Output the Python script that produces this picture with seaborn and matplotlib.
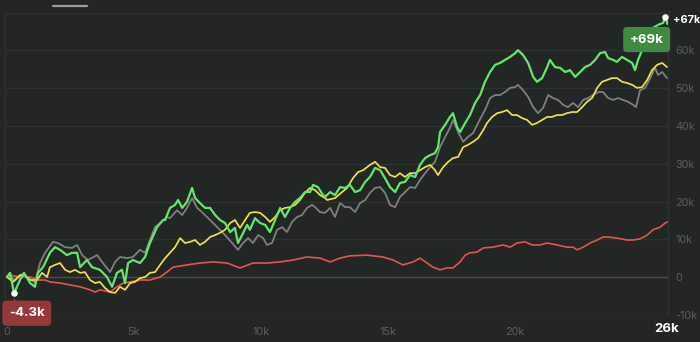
import matplotlib
matplotlib.use("Agg")
import matplotlib.pyplot as plt
from matplotlib.lines import Line2D
import pandas as pd
import seaborn as sns

# Cumulative P&L (thousands) against trade count (thousands)
green_x = [0, 0.12, 0.28, 0.51, 0.67, 0.91, 1.10, 1.22, 1.42, 1.69, 1.89, 2.09, 2.36, 2.56, 2.76, 2.88,
           3.15, 3.35, 3.66, 3.94, 4.14, 4.33, 4.53, 4.65, 4.77, 4.96, 5.24, 5.44, 5.63, 5.91, 6.15,
           6.23, 6.42, 6.62, 6.74, 6.90, 7.09, 7.29, 7.41, 7.60, 7.80, 8.00, 8.20, 8.39, 8.59, 8.79,
           8.98, 9.10, 9.26, 9.46, 9.57, 9.77, 9.97, 10.17, 10.36, 10.56, 10.76, 10.95, 11.15, 11.35,
           11.54, 11.74, 11.94, 12.06, 12.25, 12.45, 12.53, 12.73, 12.92, 13.12, 13.32, 13.51, 13.71,
           13.91, 14.11, 14.30, 14.50, 14.70, 14.89, 15.09, 15.29, 15.48, 15.68, 15.88, 16.08, 16.27,
           16.47, 16.67, 16.86, 16.98, 17.06, 17.26, 17.45, 17.57, 17.73, 17.85, 18.05, 18.24, 18.44,
           18.64, 18.83, 19.03, 19.23, 19.42, 19.62, 19.82, 20.02, 20.13, 20.33, 20.53, 20.73, 20.88,
           21.08, 21.28, 21.39, 21.59, 21.79, 21.99, 22.18, 22.38, 22.58, 22.77, 22.97, 23.17, 23.36,
           23.56, 23.68, 23.88, 24.03, 24.23, 24.43, 24.63, 24.74, 24.86, 25.02, 25.22, 25.45, 25.65,
           25.85, 25.93, 26.02]
green_y = [0, 1.1, -4.3, -0.8, 1.1, -1.6, -2.6, 1.1, 2.6, 6.4, 7.9, 7.2, 5.8, 6.4, 6.4, 2.6,
           4.5, 2.6, 1.9, 0, -2.6, 1.1, 1.9, -1.6, 3.7, 4.5, 3.7, 5.3, 9.0, 13.2, 15.1,
           15.1, 18.3, 19.1, 20.4, 18.3, 19.9, 23.6, 20.9, 19.6, 18.3, 18.3, 16.4, 15.1, 14.3, 11.9,
           13.0, 9.0, 11.1, 13.8, 12.5, 15.6, 14.3, 13.8, 11.9, 15.1, 18.3, 15.9, 18.3, 19.9,
           20.9, 22.5, 22.5, 24.4, 23.8, 21.7, 21.2, 22.5, 21.7, 23.8, 23.6, 24.4, 22.5,
           23.0, 25.2, 26.5, 28.9, 28.3, 26.2, 23.8, 22.5, 24.9, 25.2, 27.0, 26.5, 29.7,
           31.5, 32.3, 32.8, 34.4, 38.4, 40.3, 42.4, 43.4, 39.7, 38.4, 40.8, 42.9, 46.1,
           48.2, 51.7, 54.3, 56.2, 56.7, 57.5, 58.3, 59.3, 60.1, 58.8, 56.7, 53.0, 51.7,
           52.7, 55.6, 57.5, 55.6, 55.4, 54.3, 54.8, 53.0, 54.3, 55.6, 56.2, 57.5, 59.3,
           59.6, 58.0, 57.5, 57.0, 58.3, 57.5, 56.7, 54.8, 57.5, 60.1, 63.6, 66.0, 66.8,
           67.3, 69.0, 67.0]

gray_x = [0, 0.12, 0.30, 0.60, 0.90, 1.10, 1.30, 1.50, 1.81, 2.01, 2.29, 2.56, 2.76, 2.96, 3.19, 3.55,
          3.78, 4.06, 4.26, 4.45, 4.73, 4.96, 5.24, 5.44, 5.63, 5.83, 6.03, 6.30,
          6.42, 6.70, 6.90, 7.09, 7.29, 7.49, 7.68, 7.88, 8.12, 8.31, 8.59, 8.87, 9.10, 9.30, 9.50,
          9.69, 9.89, 10.09, 10.24, 10.44, 10.64, 10.84, 11.03, 11.23, 11.43, 11.62, 11.82, 12.02,
          12.14, 12.33, 12.53, 12.73, 12.92, 13.12, 13.32, 13.51, 13.71, 13.91, 14.11, 14.30, 14.50,
          14.70, 14.89, 15.09, 15.29, 15.48, 15.68, 15.88, 16.08, 16.27, 16.47, 16.67, 16.86, 17.06,
          17.26, 17.45, 17.57, 17.77, 17.97, 18.16, 18.36, 18.56, 18.76, 18.83, 19.03, 19.23, 19.42,
          19.62, 19.82, 20.02, 20.13, 20.33, 20.53, 20.73, 20.92, 21.12, 21.32, 21.51, 21.71, 21.91,
          22.10, 22.30, 22.50, 22.70, 22.89, 23.09, 23.29, 23.48, 23.68, 23.88, 24.07, 24.27, 24.47,
          24.67, 24.78, 24.94, 25.14, 25.34, 25.53, 25.65, 25.81, 26.00]
gray_y = [0, 0.5, -1.0, 0.8, -0.5, -1.5, 3.7, 6.4, 9.3, 9.0, 7.9, 7.7, 8.5, 5.8, 4.5, 5.8,
          3.7, 1.3, 4.0, 5.3, 5.0, 5.3, 7.2, 6.4, 9.8, 13.2, 14.3, 15.9,
          15.6, 17.7, 16.4, 18.3, 20.9, 18.3, 17.2, 15.9, 14.3, 13.0, 11.1, 9.0, 7.2, 9.0, 10.3,
          9.0, 11.1, 10.3, 8.5, 9.0, 12.5, 13.2, 11.9, 14.6, 15.9, 16.4, 18.3, 19.1,
          18.5, 17.2, 17.0, 18.3, 15.9, 19.6, 18.5, 18.5, 17.2, 19.6, 20.4, 22.3, 23.6,
          23.8, 22.3, 19.1, 18.5, 21.2, 22.5, 23.8, 23.6, 25.7, 27.5, 29.1, 30.5, 34.4,
          37.1, 39.5, 41.6, 38.4, 35.8, 37.1, 38.1, 40.8, 43.4, 44.2, 47.4, 48.2, 48.2,
          49.0, 50.1, 50.3, 50.9, 49.5, 47.7, 45.0, 43.4, 44.8, 48.2, 47.4, 46.9, 45.6,
          45.0, 46.1, 45.0, 46.9, 47.4, 48.2, 49.0, 49.0, 47.4, 46.9, 47.4, 46.9, 46.4,
          45.6, 45.0, 49.5, 50.1, 52.7, 55.4, 53.5, 54.3, 52.7]

yellow_x = [0, 0.24, 0.51, 0.71, 0.91, 1.18, 1.38, 1.58, 1.69, 1.89, 2.09, 2.29, 2.48, 2.68, 2.88,
            3.07, 3.27, 3.47, 3.66, 3.86, 4.06, 4.26, 4.45, 4.65, 4.85, 5.04, 5.24, 5.44, 5.63,
            5.83, 6.03, 6.23, 6.42, 6.62, 6.82, 7.01, 7.21, 7.41, 7.60, 7.80, 8.00, 8.20, 8.39,
            8.59, 8.79, 8.98, 9.18, 9.38, 9.57, 9.77, 9.97, 10.17, 10.36, 10.56, 10.76, 10.95,
            11.15, 11.35, 11.54, 11.74, 11.94, 12.14, 12.33, 12.53, 12.61, 12.92, 13.20, 13.40,
            13.63, 13.83, 14.03, 14.30, 14.50, 14.70, 14.89, 15.09, 15.29, 15.48, 15.68, 15.88,
            16.08, 16.27, 16.47, 16.67, 16.86, 16.98, 17.18, 17.38, 17.57, 17.77, 17.97, 18.16,
            18.36, 18.56, 18.76, 18.91, 19.11, 19.31, 19.50, 19.70, 19.90, 20.09, 20.29, 20.49,
            20.69, 20.88, 21.08, 21.28, 21.47, 21.67, 21.87, 22.06, 22.26, 22.46, 22.66, 22.85,
            23.05, 23.25, 23.44, 23.64, 23.84, 24.03, 24.23, 24.43, 24.63, 24.82, 25.02, 25.22,
            25.41, 25.61, 25.81, 26.00]
yellow_y = [0, -1.3, 0.5, 0.5, -0.8, -0.8, 1.1, 0, 2.6, 3.2, 3.7, 1.9, 1.3, 1.9, 1.1,
            1.3, -0.8, -1.6, -1.3, -2.9, -4.0, -4.2, -2.6, -3.4, -1.6, -1.3, -0.3, 0, 1.1,
            1.3, 3.2, 5.0, 6.4, 7.9, 10.3, 9.0, 9.3, 9.8, 8.5, 9.3, 10.6, 11.1, 11.7,
            12.5, 14.3, 15.1, 13.0, 15.1, 17.0, 17.2, 17.0, 15.9, 14.6, 15.9, 17.7, 18.3,
            18.5, 19.1, 20.4, 22.3, 23.6, 23.0, 21.7, 20.9, 20.4, 20.9, 22.5, 23.6,
            26.2, 27.8, 28.3, 29.7, 30.5, 29.1, 28.9, 27.0, 26.5, 27.5, 26.5, 27.5,
            27.5, 28.3, 29.1, 29.7, 28.3, 27.0, 29.1, 30.5, 31.5, 31.8, 34.4, 35.0,
            35.8, 36.8, 38.9, 40.8, 42.4, 43.4, 43.7, 44.2, 42.9, 42.9, 42.1, 41.6,
            40.3, 40.8, 41.6, 42.4, 42.4, 42.9, 42.9, 43.4, 43.7, 43.7, 45.0, 46.4,
            47.4, 50.1, 51.7, 52.2, 52.7, 52.7, 51.7, 51.4, 50.9, 50.1, 50.3, 52.2,
            54.8, 56.2, 56.7, 55.6]

red_x = [0, 0.12, 0.51, 0.91, 1.22, 1.50, 1.69, 2.09, 2.48, 2.88, 3.27, 3.47, 3.66, 4.06, 4.33,
         4.57, 4.85, 5.24, 5.63, 6.03, 6.30, 6.54, 7.09, 7.60, 8.12, 8.67, 9.18, 9.69, 10.24,
         10.76, 11.27, 11.82, 12.33, 12.73, 13.12, 13.51, 14.18, 14.81, 15.21, 15.60, 16.00,
         16.27, 16.55, 16.78, 17.06, 17.34, 17.57, 17.85, 18.05, 18.24, 18.52, 18.76, 19.15,
         19.54, 19.82, 20.09, 20.41, 20.69, 21.00, 21.28, 21.67, 22.06, 22.30, 22.46, 22.70,
         22.97, 23.25, 23.48, 23.68, 24.03, 24.43, 24.67, 24.94, 25.22, 25.45, 25.73, 25.93, 26.02]
red_y = [0, 0.5, 0, 0, -0.8, -0.8, -1.3, -1.6, -2.1, -2.6, -3.4, -4.0, -3.4, -4.0, -2.6,
         -1.6, -1.3, -0.8, -0.8, 0, 1.3, 2.6, 3.2, 3.7, 4.0, 3.7, 2.4, 3.7, 3.7,
         4.0, 4.5, 5.3, 5.0, 4.0, 5.0, 5.6, 5.8, 5.3, 4.5, 3.2, 4.0,
         5.0, 3.7, 2.6, 1.9, 2.4, 2.4, 4.0, 5.8, 6.4, 6.6, 7.7, 7.9,
         8.5, 7.9, 9.0, 9.3, 8.5, 8.5, 9.0, 8.5, 7.9, 7.9, 7.2, 7.9,
         9.0, 9.8, 10.6, 10.6, 10.3, 9.8, 9.8, 10.1, 11.1, 12.5, 13.2, 14.3, 14.6]

y_ticks = [-10, 0, 10, 20, 30, 40, 50, 60]
y_tick_labels = ["-10k", "0", "10k", "20k", "30k", "40k", "50k", "60k"]
x_ticks = [0, 5, 10, 15, 20]
x_tick_labels = ["0", "5k", "10k", "15k", "20k"]
x_end, x_end_label = 26.0, "26k"
end_label = "+67k"
max_value, max_x, max_label = 69.0, 25.93, "+69k"
min_value, min_x, min_label = -4.3, 0.28, "-4.3k"

BG = "#222725"
GRID = "#2c3230"
TICK = "#5b5f5d"

series = {
    "gray": (gray_x, gray_y, "#7f7f7f", 1.3),
    "red": (red_x, red_y, "#e5544f", 1.2),
    "yellow": (yellow_x, yellow_y, "#f0e04a", 1.25),
    "green": (green_x, green_y, "#62e866", 1.6),
}

sns.set_theme(style="dark")
plt.rcParams["font.family"] = ["Inter", "DejaVu Sans"]

fig = plt.figure(figsize=(7.0, 3.42), dpi=100, facecolor=BG)
ax = fig.add_axes([5 / 700, (342 - 314.75) / 342, 663 / 700, 302 / 342])
ax.set_facecolor(BG)

for name, (xs, ys, color, lw) in series.items():
    df = pd.DataFrame({"trades": xs, "pnl": ys})
    sns.lineplot(data=df, x="trades", y="pnl", ax=ax, color=color, linewidth=lw,
                 estimator=None, sort=False, zorder=3)

ax.set_xlim(-0.079, 26.04)
ax.set_ylim(-10, 70)
ax.set_xlabel("")
ax.set_ylabel("")

# horizontal grid, zero line emphasised
for v in range(-10, 71, 10):
    ax.axhline(v, color="#4a4f4c" if v == 0 else GRID, linewidth=1.0, zorder=1)

for side, sp in ax.spines.items():
    if side in ("left", "right"):
        sp.set_visible(True)
        sp.set_color(GRID)
        sp.set_linewidth(1.0)
    else:
        sp.set_visible(False)

ax.yaxis.tick_right()
ax.set_yticks(y_ticks)
ax.set_yticklabels(y_tick_labels, color=TICK, fontsize=7.8)
ax.set_xticks(x_ticks)
ax.set_xticklabels(x_tick_labels, color=TICK, fontsize=7.8)
ax.tick_params(axis="x", length=0, pad=9)
ax.tick_params(axis="y", length=0, pad=5)
ax.grid(False)

# last x value, highlighted
ax.text(x_end, -12.2, x_end_label, ha="center", va="top",
        fontsize=9.5, fontweight="bold", color="white", clip_on=False)

# end value beside the axis
ax.annotate(end_label, xy=(1.0, 68.2), xycoords=("axes fraction", "data"),
            xytext=(3.5, 0), textcoords="offset points", ha="left", va="center",
            fontsize=7.9, fontweight="bold", color="white", annotation_clip=False)

# maximum marker and badge
ax.scatter([max_x], [max_value], s=22, color="white", zorder=5, linewidths=0)
ax.annotate(max_label, xy=(max_x, max_value), xytext=(25.2, 62.9), textcoords="data",
            ha="center", va="center", fontsize=9.5, fontweight="bold", color="white", zorder=6,
            bbox=dict(boxstyle="round,pad=0.5,rounding_size=0.3", fc="#3e8b41", ec="none"))

# minimum marker and badge
ax.scatter([min_x], [min_value], s=22, color="white", zorder=5, linewidths=0)
ax.annotate(min_label, xy=(min_x, min_value), xytext=(0.78, -9.6), textcoords="data",
            ha="center", va="center", fontsize=9.5, fontweight="bold", color="white", zorder=6,
            bbox=dict(boxstyle="round,pad=0.5,rounding_size=0.3", fc="#973838", ec="none"),
            annotation_clip=False)
ax.scatter([min_x], [-6.4], marker="^", s=26, color="#973838", zorder=6, linewidths=0,
           clip_on=False)

# active tab underline in the header strip
fig.add_artist(Line2D([53 / 700, 87 / 700], [1 - 5.5 / 342] * 2, color="#9a9d9b",
                      linewidth=1.6, transform=fig.transFigure))

fig.savefig("out.png", dpi=100, facecolor=BG)
